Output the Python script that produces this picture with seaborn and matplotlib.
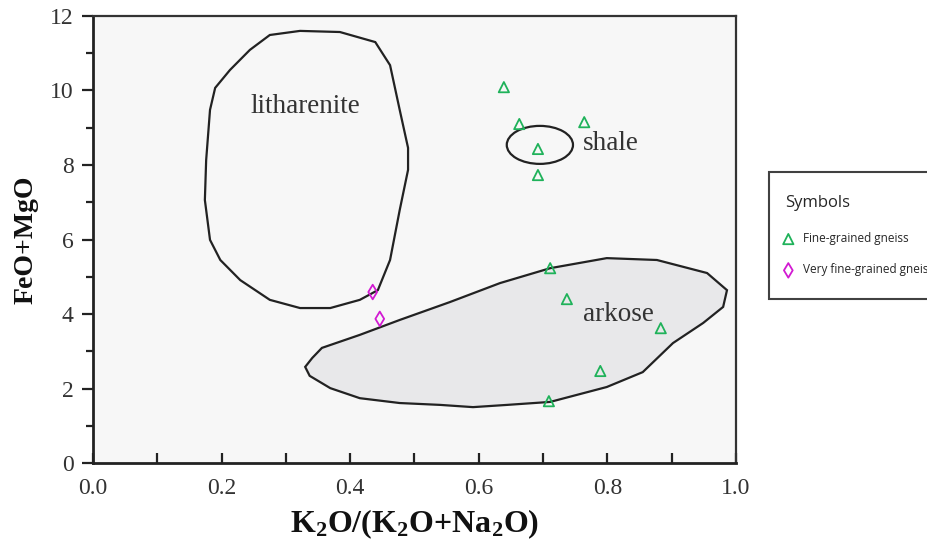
import matplotlib
matplotlib.use("Agg")
import matplotlib.pyplot as plt
import seaborn as sns
import pandas as pd
from matplotlib.patches import Polygon, Ellipse
from matplotlib.ticker import MultipleLocator, FormatStrFormatter

# ---- data ----
fine_x = [0.639, 0.663, 0.764, 0.692, 0.692, 0.711, 0.737, 0.883, 0.789, 0.709]
fine_y = [10.09, 9.10, 9.15, 8.43, 7.73, 5.23, 4.40, 3.62, 2.47, 1.66]
vfine_x = [0.435, 0.446]
vfine_y = [4.59, 3.87]

lith_x = [0.275, 0.322, 0.384, 0.439, 0.462, 0.477, 0.490, 0.490, 0.477, 0.462, 0.443,
          0.415, 0.369, 0.322, 0.275, 0.229, 0.198, 0.182, 0.174, 0.176, 0.182, 0.190,
          0.213, 0.244]
lith_y = [11.49, 11.60, 11.57, 11.30, 10.68, 9.48, 8.46, 7.87, 6.79, 5.45, 4.64,
          4.38, 4.16, 4.16, 4.38, 4.91, 5.45, 5.99, 7.06, 8.13, 9.48, 10.07,
          10.55, 11.09]

ark_x = [0.330, 0.341, 0.356, 0.415, 0.477, 0.555, 0.633, 0.711, 0.799, 0.877, 0.955,
         0.986, 0.980, 0.949, 0.902, 0.855, 0.799, 0.711, 0.644, 0.591, 0.540, 0.477,
         0.415, 0.369, 0.337]
ark_y = [2.58, 2.82, 3.09, 3.44, 3.84, 4.32, 4.83, 5.23, 5.50, 5.45, 5.10,
         4.64, 4.19, 3.76, 3.22, 2.44, 2.04, 1.64, 1.56, 1.50, 1.56, 1.61,
         1.74, 2.01, 2.34]

shale_center = (0.695, 8.54)
shale_w, shale_h = 0.103, 1.02

field_labels = ["litharenite", "shale", "arkose"]
field_lx = [0.330, 0.762, 0.762]
field_ly = [9.56, 8.59, 4.0]

series_names = ["Fine-grained gneiss", "Very fine-grained gneiss"]

# ---- plot ----
sns.set_theme(style="ticks")
plt.rcParams["mathtext.fontset"] = "custom"
plt.rcParams["mathtext.rm"] = "Liberation Serif:bold"
plt.rcParams["mathtext.it"] = "Liberation Serif:bold"
plt.rcParams["mathtext.bf"] = "Liberation Serif:bold"

fig = plt.figure(figsize=(9.28, 5.46), dpi=100)
fig.patch.set_facecolor("white")
ax = fig.add_axes([0.1002, 0.152, 0.6929, 0.8187])
ax.set_facecolor("#f7f7f7")

ax.add_patch(Polygon(list(zip(lith_x, lith_y)), closed=True, fill=False,
                     edgecolor="#222222", lw=1.6, zorder=2))
ax.add_patch(Polygon(list(zip(ark_x, ark_y)), closed=True, facecolor="#e8e8ea",
                     edgecolor="#222222", lw=1.6, zorder=2))
ax.add_patch(Ellipse(shale_center, shale_w, shale_h, fill=False,
                     edgecolor="#222222", lw=1.6, zorder=2))

df1 = pd.DataFrame({"x": fine_x, "y": fine_y})
df2 = pd.DataFrame({"x": vfine_x, "y": vfine_y})
sns.scatterplot(data=df1, x="x", y="y", ax=ax, marker="^", s=55,
                facecolor="none", edgecolor="#1fb25a", linewidth=1.3,
                label=series_names[0], zorder=5)
sns.scatterplot(data=df2, x="x", y="y", ax=ax, marker="d", s=55,
                facecolor="none", edgecolor="#d21ad2", linewidth=1.3,
                label=series_names[1], zorder=5)

for t, lx, ly in zip(field_labels, field_lx, field_ly):
    ha = "center" if t == "litharenite" else "left"
    ax.text(lx, ly, t, ha=ha, va="center", fontsize=19.5,
            family="Liberation Serif", color="#333333", zorder=6)

ax.set_xlim(0, 1.0)
ax.set_ylim(0, 12)
ax.xaxis.set_major_locator(MultipleLocator(0.2))
ax.xaxis.set_minor_locator(MultipleLocator(0.1))
ax.xaxis.set_major_formatter(FormatStrFormatter("%.1f"))
ax.yaxis.set_major_locator(MultipleLocator(2))
ax.yaxis.set_minor_locator(MultipleLocator(1))

ax.tick_params(axis="x", which="major", direction="in", length=7, width=1.6,
               labelsize=17, colors="#222222", labelcolor="#333333", pad=11)
ax.tick_params(axis="x", which="minor", direction="in", length=7, width=1.6, colors="#222222")
ax.tick_params(axis="y", which="major", direction="out", length=8, width=1.6,
               labelsize=17, colors="#222222", labelcolor="#333333", pad=6)
ax.tick_params(axis="y", which="minor", direction="out", length=5, width=1.6, colors="#222222")
for lab in ax.get_xticklabels() + ax.get_yticklabels():
    lab.set_family("Liberation Serif")

for side in ["left", "bottom"]:
    ax.spines[side].set_linewidth(2.0)
    ax.spines[side].set_color("#222222")
for side in ["top", "right"]:
    ax.spines[side].set_linewidth(1.6)
    ax.spines[side].set_color("#333333")

ax.set_xlabel(r"K$_2$O/(K$_2$O+Na$_2$O)", fontsize=23, fontweight="bold",
              family="Liberation Serif", color="#111111", labelpad=6)
ax.set_ylabel("FeO+MgO", fontsize=20, fontweight="bold",
              family="Liberation Serif", color="#111111", labelpad=8)

leg = ax.legend(title="Symbols", loc="upper left", bbox_to_anchor=(1.0575, 0.6264),
                frameon=True, fancybox=False, edgecolor="#111111",
                prop={"family": "Open Sans", "size": 8.5},
                title_fontproperties={"family": "Open Sans", "size": 12},
                alignment="left", handletextpad=0.93, labelspacing=1.55,
                borderpad=1.0, handlelength=0.6, borderaxespad=0)
leg._legend_box.sep = 1.55 * 8.5 + 2.2
frame = leg.get_frame()
frame.set_linewidth(1.5)
frame.set_boxstyle("square", pad=0.34)
frame.set_mutation_aspect(2.75)

fig.savefig("out.png", dpi=100)
